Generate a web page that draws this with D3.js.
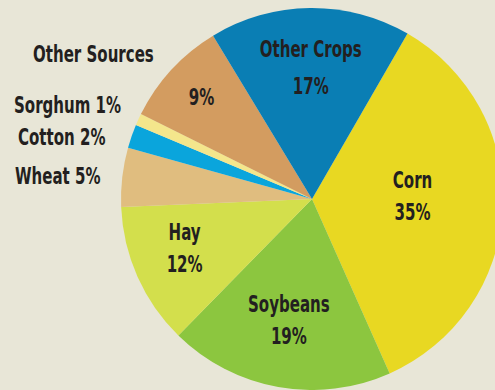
<!DOCTYPE html>
<html>
<head>
<meta charset="utf-8">
<script src="https://cdn.jsdelivr.net/npm/d3@7/dist/d3.min.js"></script>
<style>
  html, body { margin: 0; padding: 0; background: #e8e6d7; }
  svg { display: block; }
  text { font-family: "Liberation Sans Narrow", "DejaVu Sans Condensed", "Roboto", sans-serif; font-weight: bold; fill: #231f20; }
</style>
</head>
<body>
<div id="chart"></div>
<script>
// ---- data ----
const categories = ["Corn", "Soybeans", "Hay", "Wheat", "Cotton", "Sorghum", "Other Sources", "Other Crops"];
const values = [35, 19, 12, 5, 2, 1, 9, 17];
const colors = ["#e8d822", "#8cc63f", "#d3df4c", "#e0bd7f", "#0aa5dc", "#f4e68c", "#d39c60", "#0a7eb4"];
// label placement (layout, not data)
const insideLabels = { "Corn": 0.527, "Soybeans": 0.684, "Hay": 0.73, "Other Crops": 0.647 };
const pctOnlyLabels = { "Other Sources": 0.786 };
const outsideLabels = [
  { name: "Other Sources", text: "Other Sources", x: 33, y: 62 },
  { name: "Sorghum", text: "Sorghum 1%", x: 14, y: 113 },
  { name: "Cotton", text: "Cotton 2%", x: 18, y: 145 },
  { name: "Wheat", text: "Wheat 5%", x: 15, y: 184 }
];

const W = 495, H = 390;
const cx = 312, cy = 199, R = 191;
const startDeg = 30;
const fs = 23;

const svg = d3.select("#chart").append("svg").attr("width", W).attr("height", H);
svg.append("rect").attr("width", W).attr("height", H).attr("fill", "#e8e6d7");

// pick horizontal compression so text matches the condensed look
const probe = svg.append("text").attr("font-size", fs).text("Other Crops");
const probeW = probe.node().getComputedTextLength();
probe.remove();
const sx = Math.min(1, 102 / probeW);

const data = categories.map((c, i) => ({ name: c, value: values[i], color: colors[i] }));
const pie = d3.pie().value(d => d.value).sort(null)
  .startAngle(startDeg * Math.PI / 180).endAngle(startDeg * Math.PI / 180 + 2 * Math.PI);
const arcs = pie(data);
const arc = d3.arc().innerRadius(0).outerRadius(R);

const g = svg.append("g").attr("transform", `translate(${cx},${cy})`);
g.selectAll("path").data(arcs).enter().append("path")
  .attr("d", arc).attr("fill", d => d.data.color);

// inside labels (name + pct)
arcs.forEach(d => {
  const f = insideLabels[d.data.name];
  if (f !== undefined) {
    const a = d3.arc().innerRadius(R * f).outerRadius(R * f);
    const [x, y] = a.centroid(d);
    const gap = d.data.name === "Other Crops" ? 18.5 : 16;
    const lg = g.append("g").attr("transform", `translate(${x},${y}) scale(${sx},1)`);
    lg.append("text").attr("text-anchor", "middle").attr("y", -gap).attr("font-size", fs).text(d.data.name);
    lg.append("text").attr("text-anchor", "middle").attr("y", gap).attr("font-size", fs).text(d.data.value + "%");
  }
  const p = pctOnlyLabels[d.data.name];
  if (p !== undefined) {
    const a = d3.arc().innerRadius(R * p).outerRadius(R * p);
    const [x, y] = a.centroid(d);
    const lg = g.append("g").attr("transform", `translate(${x},${y}) scale(${sx},1)`);
    lg.append("text").attr("text-anchor", "middle").attr("y", 8).attr("font-size", fs).text(d.data.value + "%");
  }
});

// outside labels
outsideLabels.forEach(l => {
  const lg = svg.append("g").attr("transform", `translate(${l.x},${l.y}) scale(${sx},1)`);
  lg.append("text").attr("text-anchor", "start").attr("font-size", fs).text(l.text);
});
</script>
</body>
</html>
